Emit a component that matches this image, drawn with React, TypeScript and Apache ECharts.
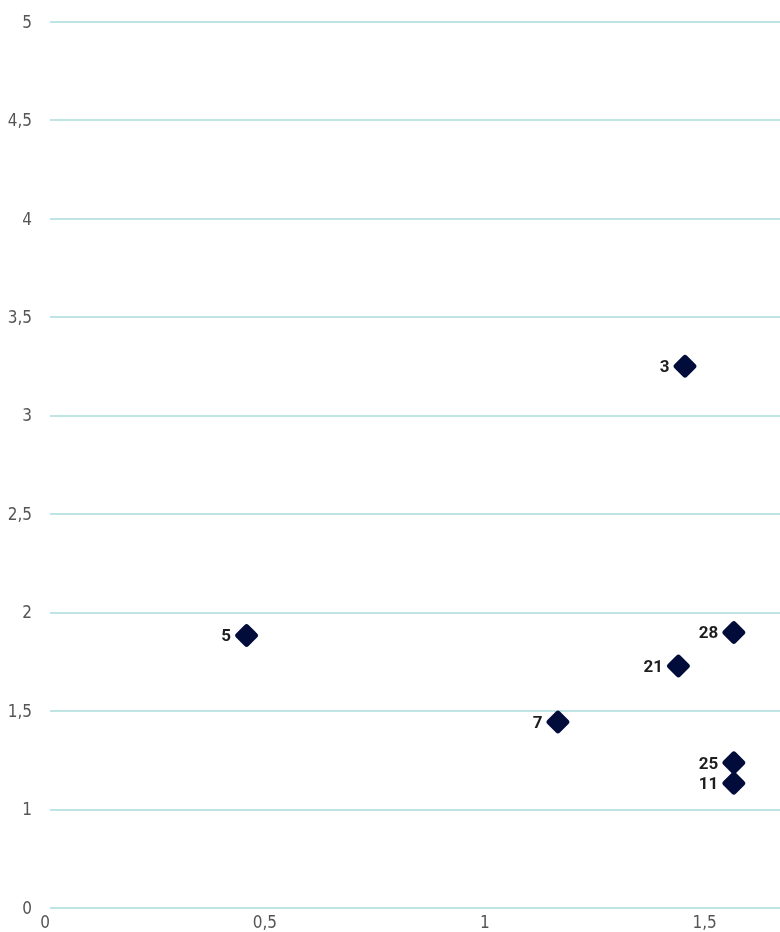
import React, { useEffect, useRef } from "react";
import * as echarts from "echarts";

const pointLabels = ["3", "5", "7", "21", "28", "25", "11"];
const xValues = [1.444, 0.447, 1.155, 1.429, 1.555, 1.555, 1.555];
const yValues = [3.25, 1.883, 1.443, 1.727, 1.898, 1.236, 1.132];

const xTicks = [0, 0.5, 1, 1.5];

const diamondPath =
  "path://M42 8Q50 0 58 8L92 42Q100 50 92 58L58 92Q50 100 42 92L8 58Q0 50 8 42Z";

const fmt = (v: number) => String(v).replace(".", ",");

export default function App() {
  const ref = useRef<HTMLDivElement>(null);
  useEffect(() => {
    if (!ref.current) return;
    const styleEl = document.createElement("style");
    styleEl.textContent =
      'svg text[style*="DejaVu"] { font-stretch: condensed !important; }';
    document.head.appendChild(styleEl);
    const chart = echarts.init(ref.current, undefined, { renderer: "svg" });
    const axisFont = "'DejaVu Sans'";
    chart.setOption({
      animation: false,
      grid: { left: 50, right: 0, top: 21.7, bottom: 24.3, containLabel: false },
      xAxis: {
        type: "value",
        min: 0,
        max: 1.66,
        interval: 0.5,
        axisLine: { show: false },
        axisTick: { show: false },
        splitLine: { show: false },
        axisLabel: {
          color: "#555",
          fontFamily: axisFont,
          fontSize: 17,
          margin: 6,
          padding: [0, 10, 0, 0],
          showMaxLabel: false,
          formatter: (v: number) => (xTicks.some((t) => Math.abs(t - v) < 1e-9) ? fmt(v) : ""),
        },
      },
      yAxis: {
        type: "value",
        min: 0.5,
        max: 5,
        interval: 0.5,
        axisLine: { show: false },
        axisTick: { show: false },
        splitLine: { show: true, lineStyle: { color: "#a9dcda", width: 1.5 } },
        axisLabel: {
          color: "#555",
          fontFamily: axisFont,
          fontSize: 17,
          margin: 18,
          formatter: (v: number) => (Math.abs(v - 0.5) < 1e-9 ? "0" : fmt(v)),
        },
      },
      series: [
        {
          type: "scatter",
          symbol: diamondPath,
          symbolSize: 23,
          itemStyle: { color: "#020c3b", opacity: 1 },
          label: {
            show: true,
            position: "left",
            distance: 4,
            formatter: (p: any) => p.data[2],
            color: "#1e1e1e",
            opacity: 1,
            fontFamily: "Roboto, sans-serif",
            fontWeight: "bold",
            fontSize: 17,
          },
          data: xValues.map((x, i) => [x, yValues[i], pointLabels[i]]),
        },
      ],
    });
    return () => {
      chart.dispose();
      styleEl.remove();
    };
  }, []);
  return (
    <div
      ref={ref}
      style={{ position: "fixed", left: 0, top: 0, width: 780, height: 932 }}
    />
  );
}
